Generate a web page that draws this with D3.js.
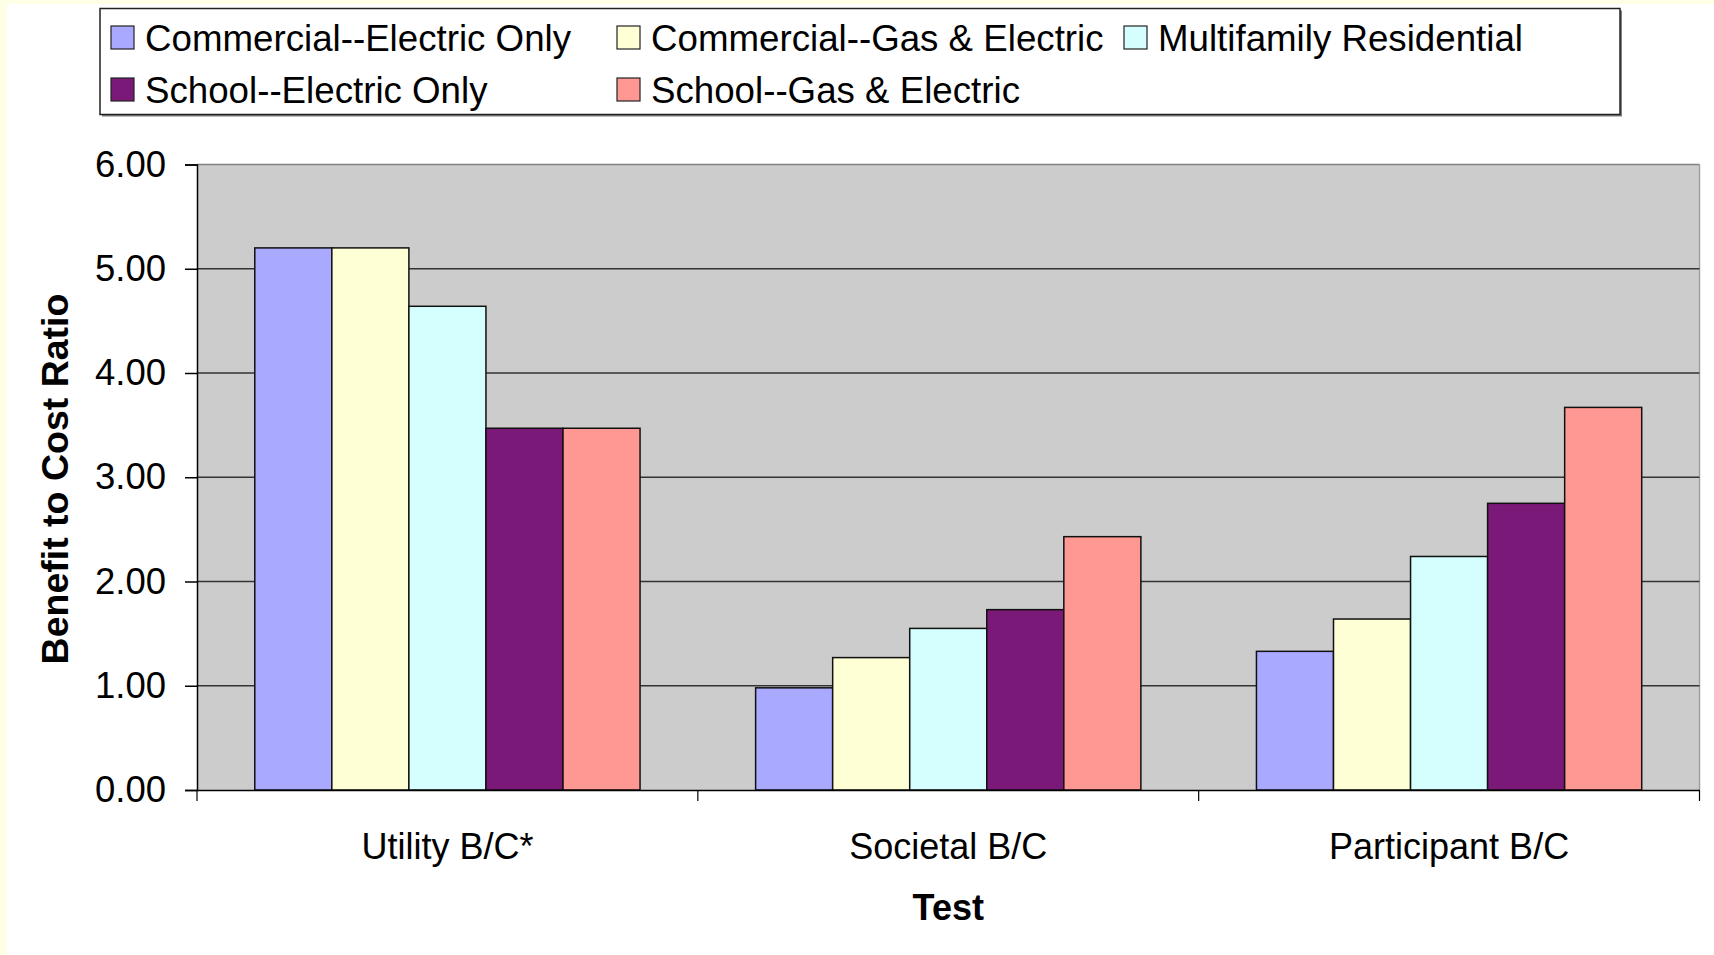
<!DOCTYPE html>
<html>
<head>
<meta charset="utf-8">
<script src="https://cdn.jsdelivr.net/npm/d3@7"></script>
<style>
  html, body { margin: 0; padding: 0; background: #FFFFE6; }
  svg { display: block; }
  text { font-family: "Liberation Sans", Arial, sans-serif; fill: #000; }
</style>
</head>
<body>
<script>
// ---- Data ----
const categories = ["Utility B/C*", "Societal B/C", "Participant B/C"];
const seriesNames = ["Commercial--Electric Only", "Commercial--Gas & Electric", "Multifamily Residential", "School--Electric Only", "School--Gas & Electric"];
const commercialElectricOnly = [5.20, 0.98, 1.33];
const commercialGasElectric  = [5.20, 1.27, 1.64];
const multifamilyResidential = [4.64, 1.55, 2.24];
const schoolElectricOnly     = [3.47, 1.73, 2.75];
const schoolGasElectric      = [3.47, 2.43, 3.67];
const seriesValues = [commercialElectricOnly, commercialGasElectric, multifamilyResidential, schoolElectricOnly, schoolGasElectric];
const seriesColors = ["#A9AAFF", "#FFFFD5", "#D5FFFF", "#7A1977", "#FF9893"];
const yTicks = [0, 1, 2, 3, 4, 5, 6];
const yTitle = "Benefit to Cost Ratio";
const xTitle = "Test";

// ---- Layout ----
const W = 1714, H = 955;
const plot = { left: 197, right: 1699.5, top: 164.5, bottom: 790 };

const svg = d3.select("body").append("svg").attr("width", W).attr("height", H);
svg.append("rect").attr("x", 7).attr("y", 4).attr("width", W - 7).attr("height", H - 4).attr("fill", "#fff");

const y = d3.scaleLinear().domain([0, 6]).range([plot.bottom, plot.top]);
const x0 = d3.scaleBand().domain(categories).range([plot.left, plot.right]).paddingInner(0).paddingOuter(0);
const gw = x0.bandwidth();
const gap = gw * 1.5 / 6.5;
const x1 = d3.scaleBand().domain(seriesNames).range([gap / 2, gw - gap / 2]).padding(0);

// plot area background
svg.append("rect")
  .attr("x", plot.left).attr("y", plot.top)
  .attr("width", plot.right - plot.left).attr("height", plot.bottom - plot.top)
  .attr("fill", "#CCCCCC");
// top & right border
svg.append("line").attr("x1", plot.left).attr("x2", plot.right).attr("y1", plot.top).attr("y2", plot.top)
  .attr("stroke", "#808080").attr("stroke-width", 1.5);
svg.append("line").attr("x1", plot.right).attr("x2", plot.right).attr("y1", plot.top).attr("y2", plot.bottom)
  .attr("stroke", "#A0A0A0").attr("stroke-width", 1.5);

// gridlines
svg.append("g").selectAll("line").data(yTicks.filter(d => d > 0 && d < 6)).join("line")
  .attr("x1", plot.left).attr("x2", plot.right)
  .attr("y1", d => y(d)).attr("y2", d => y(d))
  .attr("stroke", "#333").attr("stroke-width", 1.5);

// bars
const groups = svg.append("g").selectAll("g").data(categories).join("g")
  .attr("transform", d => `translate(${x0(d)},0)`);
groups.selectAll("rect").data((c, ci) => seriesNames.map((s, si) => ({ s, si, v: seriesValues[si][ci] }))).join("rect")
  .attr("x", d => x1(d.s)).attr("width", x1.bandwidth())
  .attr("y", d => y(d.v)).attr("height", d => y(0) - y(d.v))
  .attr("fill", d => seriesColors[d.si])
  .attr("stroke", "#111").attr("stroke-width", 1.5);

// y axis
const yAxis = d3.axisLeft(y).tickValues(yTicks).tickSize(12).tickPadding(19).tickFormat(d3.format(".2f"));
const gy = svg.append("g").attr("transform", `translate(${plot.left},0)`).call(yAxis);
gy.select(".domain").attr("stroke", "#000").attr("stroke-width", 1.5);
gy.selectAll(".tick line").attr("stroke", "#000").attr("stroke-width", 1.5);
gy.selectAll(".tick text").attr("font-size", 36.5).attr("font-family", "Liberation Sans, Arial, sans-serif").attr("fill", "#000");

// x axis
const xAxis = d3.axisBottom(x0).tickSize(0).tickPadding(0);
const gx = svg.append("g").attr("transform", `translate(0,${plot.bottom})`).call(xAxis);
gx.select(".domain").attr("stroke", "#000").attr("stroke-width", 1.5);
gx.selectAll(".tick text").attr("font-size", 36).attr("font-family", "Liberation Sans, Arial, sans-serif")
  .attr("fill", "#000").attr("dy", null).attr("y", 69);
// category separator ticks
const bounds = categories.map(c => x0(c)).concat([plot.right]);
svg.append("g").selectAll("line").data(bounds).join("line")
  .attr("x1", d => d).attr("x2", d => d)
  .attr("y1", plot.bottom).attr("y2", plot.bottom + 11)
  .attr("stroke", "#000").attr("stroke-width", 1.2);

// axis titles
svg.append("text").attr("transform", `translate(${55 + 13},${479}) rotate(-90)`)
  .attr("text-anchor", "middle").attr("font-size", 37.5).attr("font-weight", "bold").text(yTitle);
svg.append("text").attr("x", (plot.left + plot.right) / 2).attr("y", 920)
  .attr("text-anchor", "middle").attr("font-size", 36).attr("font-weight", "bold").text(xTitle);

// legend
const lg = svg.append("g");
lg.append("rect").attr("x", 102).attr("y", 10.5).attr("width", 1520).attr("height", 106).attr("fill", "#808080");
lg.append("rect").attr("x", 100).attr("y", 8.5).attr("width", 1520).attr("height", 106)
  .attr("fill", "#fff").attr("stroke", "#222").attr("stroke-width", 1.5);
const legendPos = [[111, 26], [617, 26], [1124, 26], [111, 78], [617, 78]];
seriesNames.forEach((s, i) => {
  const [lx, ly] = legendPos[i];
  lg.append("rect").attr("x", lx).attr("y", ly).attr("width", 23).attr("height", 23)
    .attr("fill", seriesColors[i]).attr("stroke", "#222").attr("stroke-width", 1.2);
  lg.append("text").attr("x", lx + 34).attr("y", ly + 24.5).attr("font-size", 36.7).text(s);
});
</script>
</body>
</html>
